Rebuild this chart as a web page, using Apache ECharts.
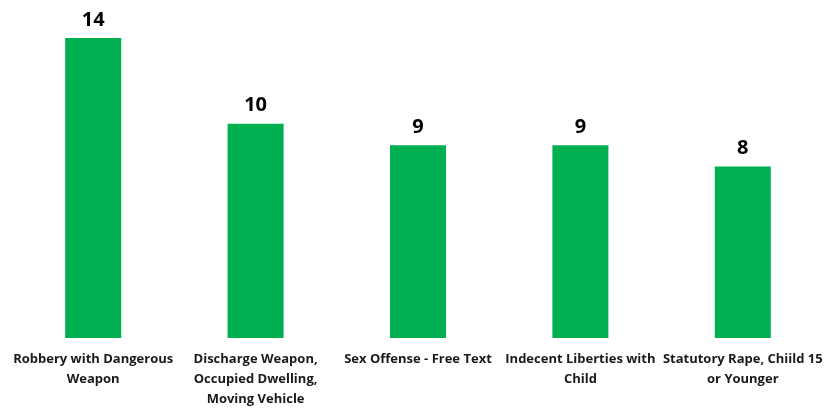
<!DOCTYPE html>
<html><head><meta charset="utf-8">
<script src="https://cdn.jsdelivr.net/npm/echarts@6/dist/echarts.min.js"></script>
<style>html,body{margin:0;padding:0;background:#fff}#c{width:837px;height:409px}</style>
</head><body><div id="c"></div>
<script>
const categories = [
  "Robbery with Dangerous\nWeapon",
  "Discharge Weapon,\nOccupied Dwelling,\nMoving Vehicle",
  "Sex Offense - Free Text",
  "Indecent Liberties with\nChild",
  "Statutory Rape, Chiild 15\nor Younger"
];
const counts = [14, 10, 9, 9, 8];

const chart = echarts.init(document.getElementById('c'));
chart.setOption({
  animation: false,
  grid: { left: 12, right: 13, top: 38, bottom: 71 },
  xAxis: {
    type: 'category', data: categories,
    axisLine: { show: false }, axisTick: { show: false },
    axisLabel: {
      interval: 0, margin: 11, color: '#1a1a1a', fontWeight: 'bold',
      fontFamily: '"Liberation Sans Narrow", "Open Sans", sans-serif',
      fontSize: 13, lineHeight: 20
    }
  },
  yAxis: { type: 'value', min: 0, max: 14, show: false, splitLine: { show: false } },
  series: [{
    type: 'bar', data: counts, barWidth: 56,
    itemStyle: { color: '#00B050' },
    label: {
      show: true, position: 'top', distance: 8, color: '#000',
      fontWeight: 'bold', fontSize: 20,
      fontFamily: '"Open Sans", "Liberation Sans", sans-serif'
    }
  }]
});
</script></body></html>
